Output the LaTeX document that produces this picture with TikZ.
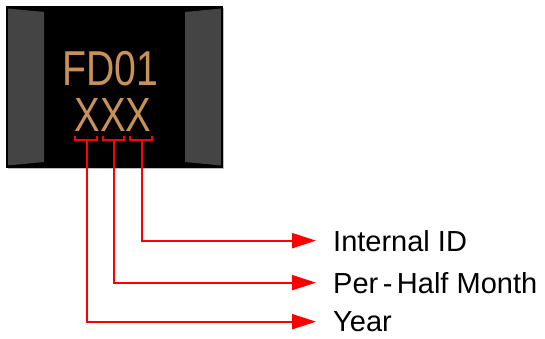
\documentclass[tikz,border=0pt]{standalone}
\usepackage{fontspec}
\usepackage{graphicx}
\setmainfont{Liberation Sans}
\usetikzlibrary{arrows.meta}
\definecolor{chiptan}{RGB}{200,145,90}
\definecolor{panelgray}{RGB}{68,68,68}
\begin{document}
\begin{tikzpicture}[x=1pt,y=-1pt,
  conn/.style={draw=red,line width=2pt,-{Triangle[length=24pt,width=15pt]}},
  brk/.style={draw=red,line width=2pt},
  lbl/.style={anchor=base west,inner sep=0pt,font=\fontsize{29}{30}\selectfont},
  chiptext/.style={anchor=base,inner sep=0pt,text=chiptan}]
\useasboundingbox (0,0) rectangle (545,338);
% chip body
\draw[black!25,line width=1pt] (8,168.5) -- (223.5,168.5) -- (223.5,8);
\fill[black] (7,7) rectangle (222,167);
\fill[panelgray] (7.5,8.5) -- (44,12) -- (44,162) -- (7.5,165.5) -- cycle;
\fill[panelgray] (221.5,8.5) -- (185,12) -- (185,162) -- (221.5,165.5) -- cycle;
\draw[black,line width=1.5pt] (7,7) rectangle (222,167);
% marking
\node[chiptext,font=\fontsize{49}{49}\selectfont] (code) at (110.5,85) {\scalebox{0.8}[1]{FD01}};
\node[chiptext,font=\fontsize{48}{48}\selectfont] (xxx) at (113,131) {\scalebox{0.8}[1]{XXX}};
% brackets
\draw[brk] (75,136) -- (75,140) -- (97,140) -- (97,136);
\draw[brk] (103,136) -- (103,140) -- (124,140) -- (124,136);
\draw[brk] (130,136) -- (130,140) -- (152,140) -- (152,136);
\coordinate (syear) at (86.7,140);
\coordinate (shalf) at (114,140);
\coordinate (sid) at (141.7,140);
% labels
\node[lbl] (lid) at (333,251) {Internal ID};
\node[lbl] (lhalf) at (333,293) {Per\kern4.5pt-\kern4.5pt Half Month};
\node[lbl] (lyear) at (333,331.5) {Year};
% connectors
\draw[conn] (sid) |- ([xshift=-17pt]lid.west);
\draw[conn] (shalf) |- ([xshift=-17pt]lhalf.west);
\draw[conn] (syear) |- ([xshift=-17pt]lyear.west);
\end{tikzpicture}
\end{document}
